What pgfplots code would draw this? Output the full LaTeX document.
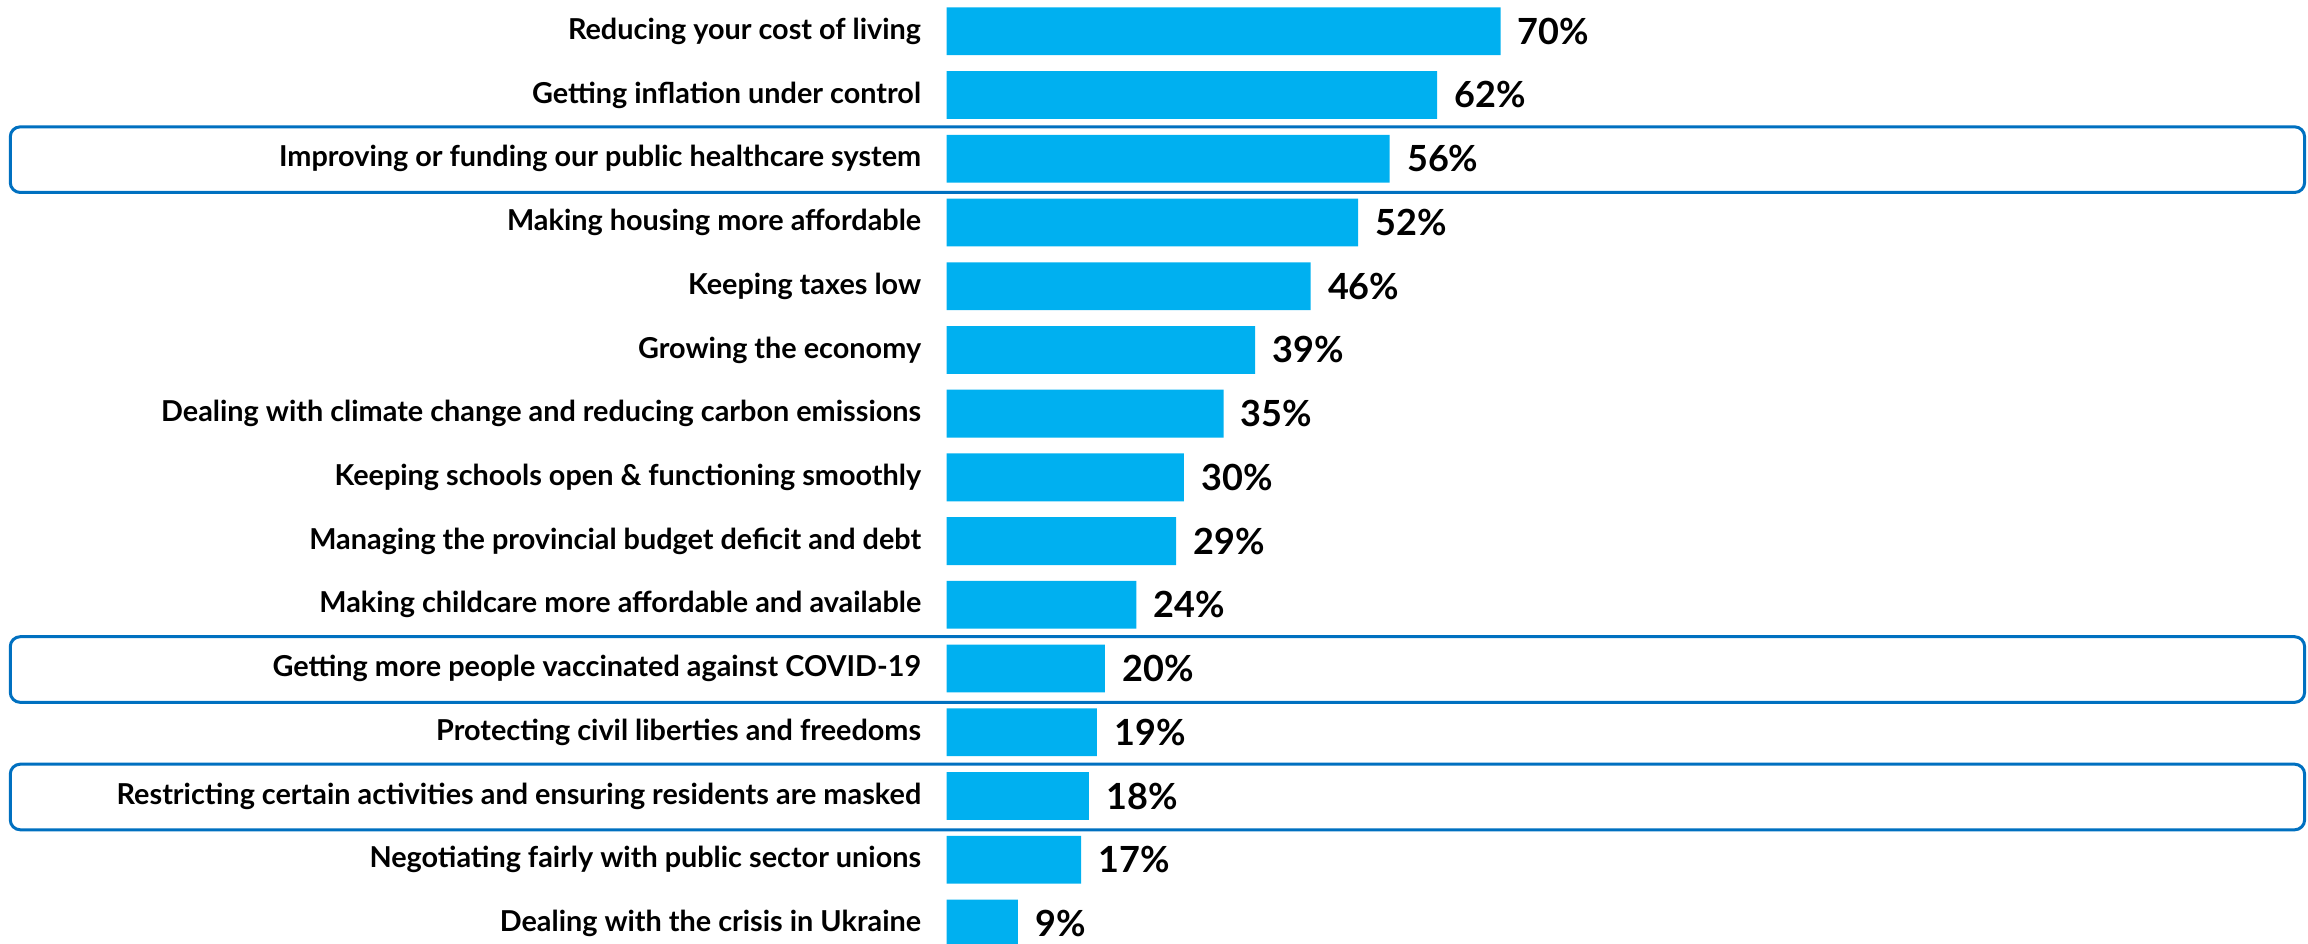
\documentclass[border=0pt]{standalone}
\usepackage{fontspec}
\setmainfont{Lato}
\usepackage{pgfplots}
\pgfplotsset{compat=1.18}
\definecolor{barblue}{HTML}{00B0F0}
\definecolor{boxblue}{HTML}{0070C0}
\begin{document}
\begin{tikzpicture}
\begin{axis}[
  xbar, scale only axis,
  width=680.3pt, height=471.4pt,
  xmin=0, xmax=172,
  ymin=-0.49, ymax=14.31,
  y dir=reverse,
  axis line style={draw=none},
  xtick=\empty,
  ytick={0,...,14},
  yticklabels={
    Reducing your cost of living,
    Getting inflation under control,
    Improving or funding our public healthcare system,
    Making housing more affordable,
    Keeping taxes low,
    Growing the economy,
    Dealing with climate change and reducing carbon emissions,
    Keeping schools open \& functioning smoothly,
    Managing the provincial budget deficit and debt,
    Making childcare more affordable and available,
    Getting more people vaccinated against COVID-19,
    Protecting civil liberties and freedoms,
    Restricting certain activities and ensuring residents are masked,
    Negotiating fairly with public sector unions,
    Dealing with the crisis in Ukraine},
  major tick length=0pt,
  yticklabel style={font=\fontsize{14.4}{16}\selectfont\bfseries, anchor=east, inner sep=0pt, xshift=-12.5pt},
  bar width=0.75,
  /pgf/number format/assume math mode=true,
  nodes near coords={\pgfmathprintnumber{\pgfplotspointmeta}\%},
  nodes near coords style={font=\fontsize{18}{20}\selectfont\bfseries, anchor=west, inner sep=0pt, xshift=8.5pt},
  clip mode=individual,
]
\addplot[fill=barblue, draw=none] coordinates {
  (70,0) (62,1) (56,2) (52,3) (46,4) (39,5) (35,6) (30,7)
  (29,8) (24,9) (20,10) (19,11) (18,12) (17,13) (9,14)};
% highlighted rows
\draw[boxblue, line width=1.5pt, rounded corners=5pt] (axis cs:-118.3,1.5) rectangle (axis cs:171.6,2.53);
\draw[boxblue, line width=1.5pt, rounded corners=5pt] (axis cs:-118.3,9.5) rectangle (axis cs:171.6,10.53);
\draw[boxblue, line width=1.5pt, rounded corners=5pt] (axis cs:-118.3,11.5) rectangle (axis cs:171.6,12.53);
\path (axis cs:-119.6,-0.49) rectangle (axis cs:172,14.31);
\end{axis}
\end{tikzpicture}
\end{document}
